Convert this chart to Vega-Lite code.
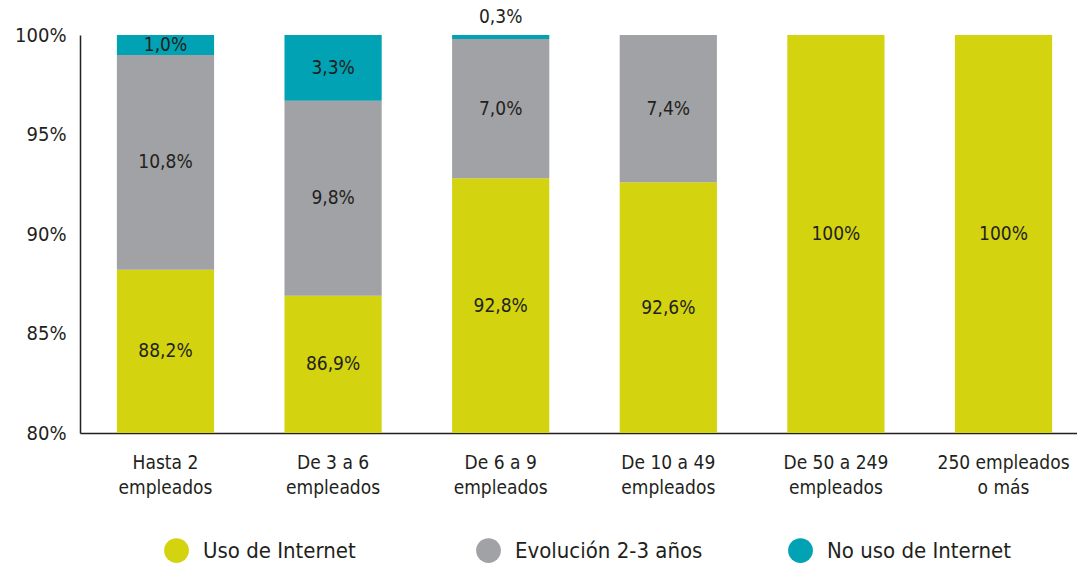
{
  "$schema": "https://vega.github.io/schema/vega-lite/v6.json",
  "width": 1009,
  "height": 398,
  "autosize": {"type": "none"},
  "padding": {"left": 80, "top": 35, "right": 0, "bottom": 131},
  "background": "white",
  "config": {
    "font": "Liberation Sans Narrow, DejaVu Sans Condensed, sans-serif",
    "view": {"stroke": null}
  },
  "data": {
    "values": [
      {"cat": "Hasta 2|empleados", "serie": "Uso de Internet", "orden": 1, "value": 88.2},
      {"cat": "Hasta 2|empleados", "serie": "Evolución 2-3 años", "orden": 2, "value": 10.8},
      {"cat": "Hasta 2|empleados", "serie": "No uso de Internet", "orden": 3, "value": 1.0},
      {"cat": "De 3 a 6|empleados", "serie": "Uso de Internet", "orden": 1, "value": 86.9},
      {"cat": "De 3 a 6|empleados", "serie": "Evolución 2-3 años", "orden": 2, "value": 9.8},
      {"cat": "De 3 a 6|empleados", "serie": "No uso de Internet", "orden": 3, "value": 3.3},
      {"cat": "De 6 a 9|empleados", "serie": "Uso de Internet", "orden": 1, "value": 92.8},
      {"cat": "De 6 a 9|empleados", "serie": "Evolución 2-3 años", "orden": 2, "value": 7.0},
      {"cat": "De 6 a 9|empleados", "serie": "No uso de Internet", "orden": 3, "value": 0.3},
      {"cat": "De 10 a 49|empleados", "serie": "Uso de Internet", "orden": 1, "value": 92.6},
      {"cat": "De 10 a 49|empleados", "serie": "Evolución 2-3 años", "orden": 2, "value": 7.4},
      {"cat": "De 50 a 249|empleados", "serie": "Uso de Internet", "orden": 1, "value": 100},
      {"cat": "250 empleados|o más", "serie": "Uso de Internet", "orden": 1, "value": 100}
    ]
  },
  "transform": [
    {"stack": "value", "groupby": ["cat"], "sort": [{"field": "orden", "order": "ascending"}], "as": ["v0", "v1"]},
    {"calculate": "datum.value < 0.5 ? datum.v1 + 0.8 : (max(datum.v0, 80) + min(datum.v1, 100)) / 2", "as": "mid"},
    {"calculate": "datum.value == 100 ? '100%' : replace(format(datum.value, '.1f'), '.', ',') + '%'", "as": "lbl"}
  ],
  "encoding": {
    "x": {
      "field": "cat",
      "type": "nominal",
      "sort": ["Hasta 2|empleados", "De 3 a 6|empleados", "De 6 a 9|empleados", "De 10 a 49|empleados", "De 50 a 249|empleados", "250 empleados|o más"],
      "scale": {"paddingInner": 0.42, "paddingOuter": 0.22},
      "axis": {
        "title": null,
        "labelAngle": 0,
        "ticks": false,
        "labelExpr": "split(datum.label, '|')",
        "labelFontSize": 19,
        "labelLineHeight": 25,
        "labelColor": "#231f20",
        "labelPadding": 20,
        "domainColor": "#231f20",
        "domainWidth": 1.5
      }
    }
  },
  "layer": [
    {
      "mark": {"type": "bar", "clip": true},
      "encoding": {
        "y": {
          "field": "v0",
          "type": "quantitative",
          "scale": {"domain": [80, 100], "zero": false, "nice": false},
          "axis": {
            "title": null,
            "values": [80, 85, 90, 95, 100],
            "labelExpr": "datum.value + '%'",
            "labelFontSize": 20,
            "labelColor": "#231f20",
            "labelPadding": 14,
            "ticks": false,
            "grid": false,
            "domainColor": "#231f20",
            "domainWidth": 1.5
          }
        },
        "y2": {"field": "v1"},
        "color": {
          "field": "serie",
          "type": "nominal",
          "scale": {
            "domain": ["Uso de Internet", "Evolución 2-3 años", "No uso de Internet"],
            "range": ["#d3d30f", "#a1a2a5", "#00a2b3"]
          },
          "legend": {
            "title": null,
            "orient": "none",
            "legendX": 84,
            "legendY": 503,
            "direction": "horizontal",
            "columns": 3,
            "gridAlign": "all",
            "columnPadding": 85,
            "symbolType": "circle",
            "symbolSize": 615,
            "symbolStrokeWidth": 0,
            "labelFontSize": 22,
            "labelColor": "#231f20",
            "labelOffset": 14,
            "labelLimit": 400,
            "encode": {
              "symbols": {
                "update": {
                  "fill": {"signal": "datum.value == 'Evolución 2-3 años' ? '#8b8d8f' : scale('color', datum.value)"},
                  "opacity": {"value": 1}
                }
              }
            }
          }
        }
      }
    },
    {
      "mark": {"type": "text", "fontSize": 19, "color": "#231f20", "baseline": "middle", "align": "center"},
      "encoding": {
        "y": {"field": "mid", "type": "quantitative"},
        "text": {"field": "lbl"}
      }
    }
  ]
}
